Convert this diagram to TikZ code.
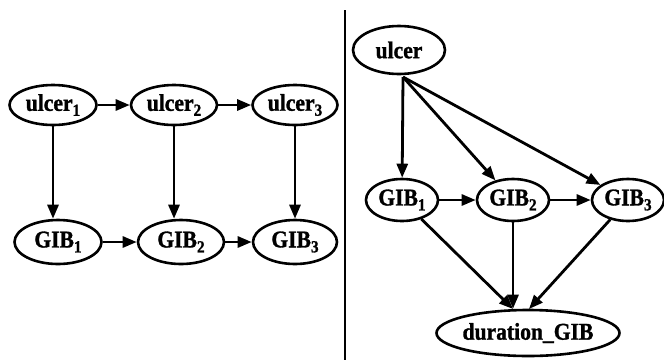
\documentclass[tikz,border=0pt]{standalone}
\usepackage{fontspec}
\setmainfont{Liberation Serif}[BoldFeatures={FakeStretch=0.9,FakeBold=1.2}]
\usetikzlibrary{shapes.geometric,arrows.meta}
\newcommand{\idx}[1]{\raisebox{-5pt}{\fontsize{17}{17}\selectfont #1}}
\begin{document}
\begin{tikzpicture}[x=1pt,y=-1pt,
  var/.style={ellipse,draw,line width=2.6pt,inner xsep=-10pt,inner ysep=0pt,font=\fontsize{24}{24}\selectfont\bfseries},
  link/.style={line width=2.8pt,-{Triangle[length=14pt,width=11pt]}}]
  \useasboundingbox (0,0) rectangle (664,360);
  % separator between the two networks
  \draw[line width=1.8pt] (345,10) -- (345,360) coordinate (sepb);

  % unrolled network
  \node[var,minimum width=87pt,minimum height=40pt] (u1) at (53,105) {ulcer\idx{1}};
  \node[var,minimum width=86pt,minimum height=40pt] (u2) at (174,105) {ulcer\idx{2}};
  \node[var,minimum width=85pt,minimum height=40pt] (u3) at (295,105) {ulcer\idx{3}};
  \node[var,minimum width=87pt,minimum height=44pt] (g1) at (58,242) {GIB\idx{1}};
  \node[var,minimum width=86pt,minimum height=44pt] (g2) at (181,242) {GIB\idx{2}};
  \node[var,minimum width=84pt,minimum height=44pt] (g3) at (295,242) {GIB\idx{3}};
  \draw[link] (u1) -- (u2);
  \draw[link] (u2) -- (u3);
  \draw[link] (g1) -- (g2);
  \draw[link] (g2) -- (g3);
  \draw[link] (u1.south) -- (u1.south |- g1.north);
  \draw[link] (u2.south) -- (u2.south |- g2.north);
  \draw[link] (u3.south) -- (u3.south |- g3.north);

  % collapsed network
  \node[var,minimum width=92pt,minimum height=48pt] (u) at (399,50) {ulcer};
  \node[var,minimum width=72pt,minimum height=42pt] (h1) at (402,200) {GIB\idx{1}};
  \node[var,minimum width=72pt,minimum height=42pt] (h2) at (513,200) {GIB\idx{2}};
  \node[var,minimum width=72pt,minimum height=42pt] (h3) at (628,200) {GIB\idx{3}};
  \node[var,minimum width=183pt,minimum height=46pt] (d) at (528,333) {duration\_GIB};
  \coordinate (uo) at (403,77);
  \draw[link] (uo) -- (h1);
  \draw[link] (uo) -- (h2);
  \draw[link] (uo) -- (h3);
  \draw[link] (h1) -- (h2);
  \draw[link] (h2) -- (h3);
  \draw[link] (h1) -- (513,309);
  \draw[link] (h2.south) -- (h2.south |- d.north);
  \draw[link] (h3) -- (529,309);
\end{tikzpicture}
\end{document}
